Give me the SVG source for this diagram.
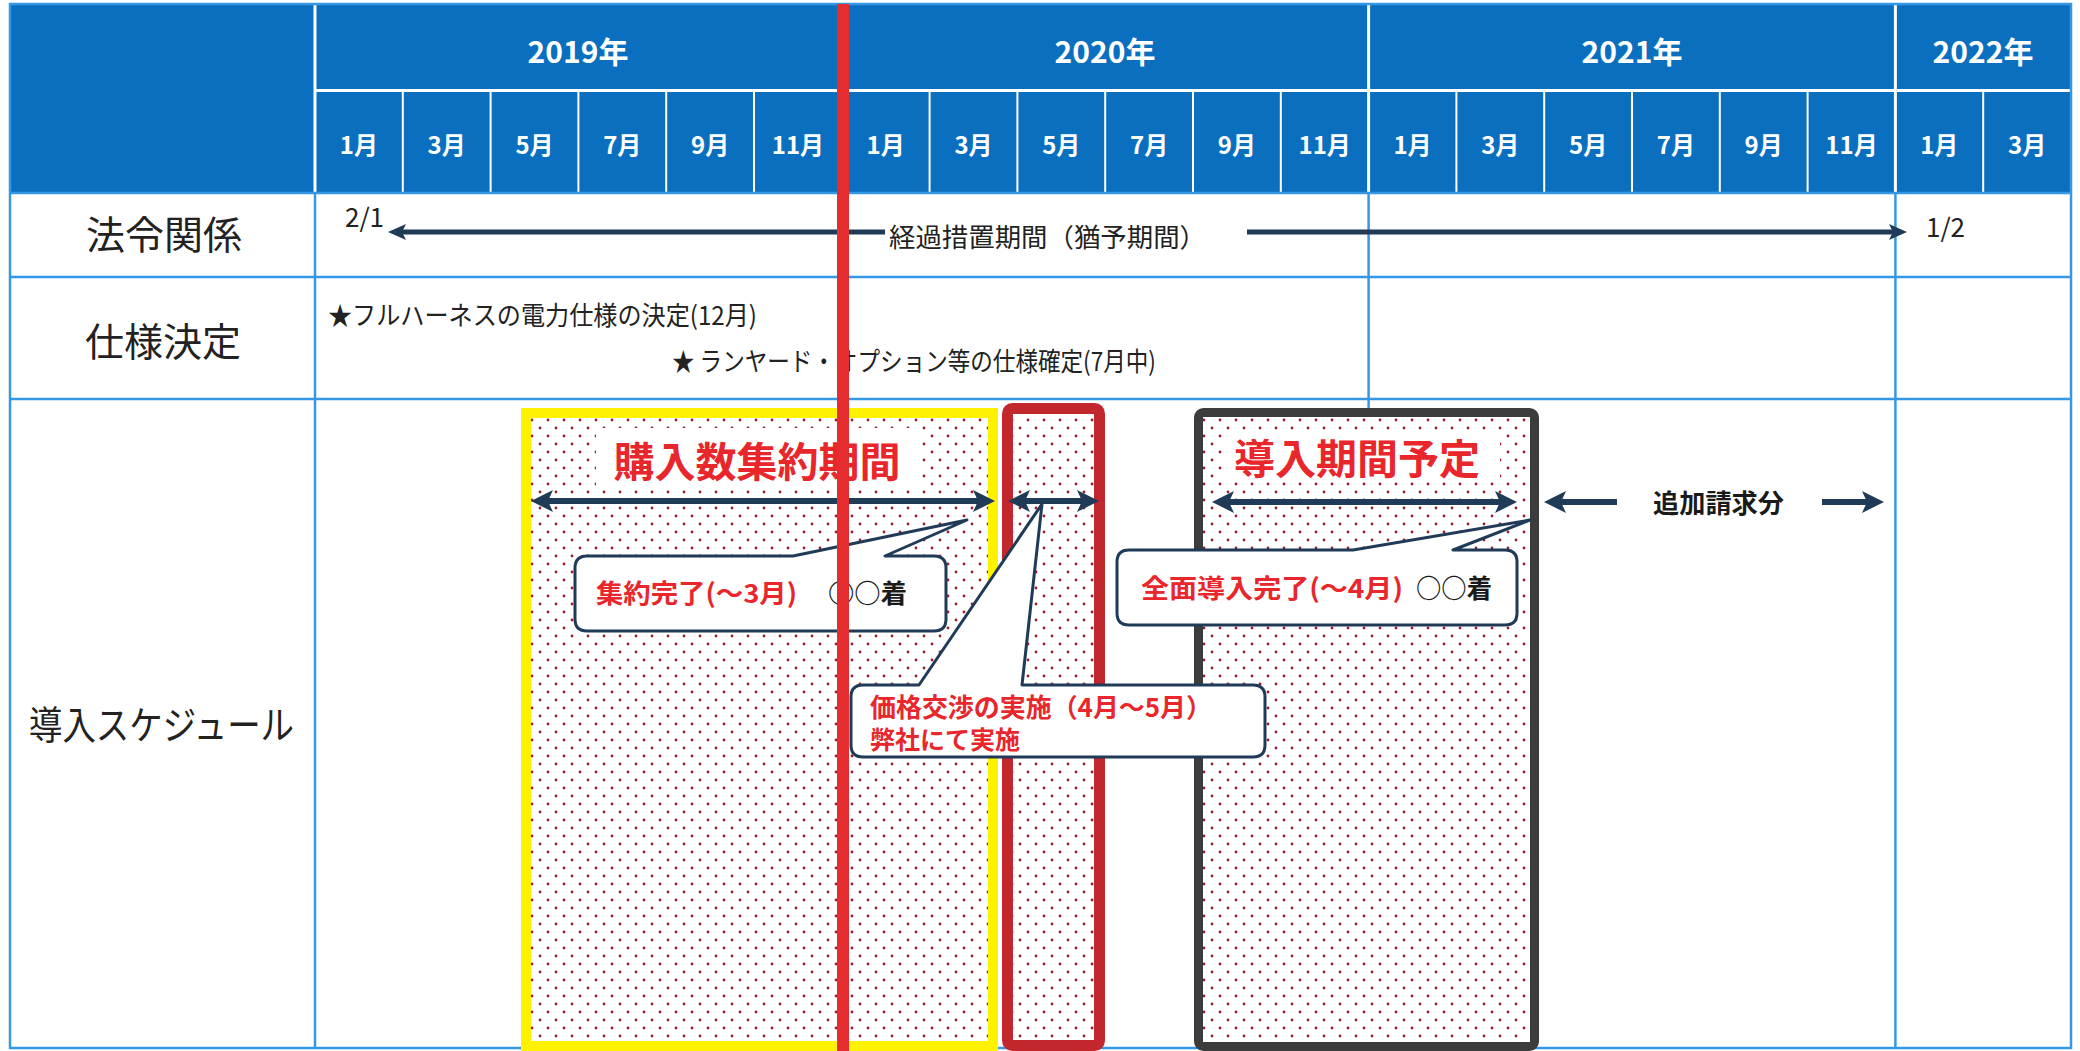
<svg xmlns="http://www.w3.org/2000/svg" width="2080" height="1051" viewBox="0 0 2080 1051">
<style>
text{font-family:"Noto Sans CJK JP","Noto Sans",sans-serif}
.yr{fill:#fff;font-weight:bold;font-size:30px;text-anchor:middle}
.mo{fill:#fff;font-weight:bold;font-size:24px;text-anchor:middle}
.lbl{fill:#222;font-size:39px;text-anchor:middle}
.txt{fill:#222;font-size:26px}
.red{fill:#e8262b;font-weight:bold}
.blk{fill:#1a1a1a;font-weight:bold}
.wl{stroke:#fff;stroke-width:3}
.wm{stroke:#fff;stroke-width:2}
.gl{stroke:#3598e6;stroke-width:2.5;fill:none}
.arr{stroke:#1f3b57;stroke-width:6;fill:none}
.arr2{stroke:#1f3b57;stroke-width:5;fill:none}
.co{fill:#fff;stroke:#1f3b57;stroke-width:3;stroke-linejoin:round}
</style>
<defs>
<pattern id="dots" width="16" height="16" patternUnits="userSpaceOnUse">
<rect width="16" height="16" fill="#fff"/>
<circle cx="4" cy="4" r="1.4" fill="#9e1c2c"/>
<circle cx="12" cy="12" r="1.4" fill="#9e1c2c"/>
</pattern>
<marker id="ah" viewBox="0 0 22 22" refX="8" refY="11" markerWidth="22" markerHeight="22" markerUnits="userSpaceOnUse" orient="auto-start-reverse">
<path d="M0,0 L22,11 L0,22 L5,11 Z" fill="#1f3b57"/>
</marker>
<marker id="ahs" viewBox="0 0 18 16" refX="6" refY="8" markerWidth="18" markerHeight="16" markerUnits="userSpaceOnUse" orient="auto-start-reverse">
<path d="M0,0 L18,8 L0,16 L4,8 Z" fill="#1f3b57"/>
</marker>
</defs>
<rect width="2080" height="1051" fill="#fff"/>

<g id="table">
<rect x="11" y="5" width="2060" height="188" fill="#0b6fbf"/>
<line class="wl" x1="315" y1="5" x2="315" y2="193"/>
<line class="wl" x1="315" y1="90.5" x2="2071" y2="90.5"/>
<line class="wl" x1="841.8" y1="5" x2="841.8" y2="193"/>
<line class="wl" x1="1368.6" y1="5" x2="1368.6" y2="193"/>
<line class="wl" x1="1895.4" y1="5" x2="1895.4" y2="193"/>
<g class="wm">
<line x1="402.8" y1="90" x2="402.8" y2="193"/>
<line x1="490.6" y1="90" x2="490.6" y2="193"/>
<line x1="578.4" y1="90" x2="578.4" y2="193"/>
<line x1="666.2" y1="90" x2="666.2" y2="193"/>
<line x1="754" y1="90" x2="754" y2="193"/>
<line x1="929.6" y1="90" x2="929.6" y2="193"/>
<line x1="1017.4" y1="90" x2="1017.4" y2="193"/>
<line x1="1105.2" y1="90" x2="1105.2" y2="193"/>
<line x1="1193" y1="90" x2="1193" y2="193"/>
<line x1="1280.8" y1="90" x2="1280.8" y2="193"/>
<line x1="1456.4" y1="90" x2="1456.4" y2="193"/>
<line x1="1544.2" y1="90" x2="1544.2" y2="193"/>
<line x1="1632" y1="90" x2="1632" y2="193"/>
<line x1="1719.8" y1="90" x2="1719.8" y2="193"/>
<line x1="1807.6" y1="90" x2="1807.6" y2="193"/>
<line x1="1983.2" y1="90" x2="1983.2" y2="193"/>
</g>
<text class="yr" x="578" y="63">2019年</text>
<text class="yr" x="1105" y="63">2020年</text>
<text class="yr" x="1632" y="63">2021年</text>
<text class="yr" x="1983" y="63">2022年</text>
<text class="mo" x="358.9" y="154">1月</text>
<text class="mo" x="446.7" y="154">3月</text>
<text class="mo" x="534.5" y="154">5月</text>
<text class="mo" x="622.3" y="154">7月</text>
<text class="mo" x="710.1" y="154">9月</text>
<text class="mo" x="797.9" y="154">11月</text>
<text class="mo" x="885.7" y="154">1月</text>
<text class="mo" x="973.5" y="154">3月</text>
<text class="mo" x="1061.3" y="154">5月</text>
<text class="mo" x="1149.1" y="154">7月</text>
<text class="mo" x="1236.9" y="154">9月</text>
<text class="mo" x="1324.7" y="154">11月</text>
<text class="mo" x="1412.5" y="154">1月</text>
<text class="mo" x="1500.3" y="154">3月</text>
<text class="mo" x="1588.1" y="154">5月</text>
<text class="mo" x="1675.9" y="154">7月</text>
<text class="mo" x="1763.7" y="154">9月</text>
<text class="mo" x="1851.5" y="154">11月</text>
<text class="mo" x="1939.3" y="154">1月</text>
<text class="mo" x="2027.1" y="154">3月</text>
<rect class="gl" x="10" y="4" width="2061" height="1044"/>
<line class="gl" x1="10" y1="193" x2="2071" y2="193"/>
<line class="gl" x1="10" y1="277" x2="2071" y2="277"/>
<line class="gl" x1="10" y1="399" x2="2071" y2="399"/>
<line class="gl" x1="315" y1="193" x2="315" y2="1048"/>
<line class="gl" x1="1368.6" y1="193" x2="1368.6" y2="1048"/>
<line class="gl" x1="1895.4" y1="193" x2="1895.4" y2="1048"/>
<text class="lbl" x="164" y="249">法令関係</text>
<text class="lbl" x="163" y="356">仕様決定</text>
<text class="lbl" x="29" y="739" style="text-anchor:start" textLength="265" lengthAdjust="spacingAndGlyphs">導入スケジュール</text>
<text class="txt" x="345" y="227">2/1</text>
<text class="txt" x="889" y="247" font-size="28" textLength="317" lengthAdjust="spacingAndGlyphs">経過措置期間（猶予期間）</text>
<text class="txt" x="1926" y="237">1/2</text>
<text class="txt" x="328" y="325" textLength="429" lengthAdjust="spacingAndGlyphs">★フルハーネスの電力仕様の決定(12月)</text>
<text class="txt" x="672" y="371" textLength="484" lengthAdjust="spacingAndGlyphs">★ ランヤード・オプション等の仕様確定(7月中)</text>
</g>

<g id="box-shuyaku">
<rect x="526" y="413" width="467" height="633" fill="url(#dots)" stroke="#fff200" stroke-width="10"/>
<rect x="596" y="428" width="322" height="62" fill="#fff"/>
<text class="red" x="757" y="477" font-size="41" text-anchor="middle">購入数集約期間</text>
</g>

<g id="box-kakaku">
<rect x="1007.5" y="408.5" width="92" height="637" rx="5" fill="url(#dots)" stroke="#c1272d" stroke-width="11"/>
</g>

<g id="box-dounyu">
<rect x="1198.5" y="412.5" width="336" height="634" rx="5" fill="url(#dots)" stroke="#3c3c3c" stroke-width="9"/>
<rect x="1222" y="430" width="278" height="52" fill="#fff"/>
<text class="red" x="1357" y="474" font-size="41" text-anchor="middle">導入期間予定</text>
</g>

<g id="connectors">
<line class="arr2" x1="885" y1="232" x2="400" y2="232" marker-end="url(#ahs)"/>
<line class="arr2" x1="1247" y1="232" x2="1895" y2="232" marker-end="url(#ahs)"/>
<line class="arr" x1="545" y1="501" x2="981" y2="501" marker-start="url(#ah)" marker-end="url(#ah)"/>
<line class="arr" x1="1022" y1="501" x2="1085" y2="501" marker-start="url(#ah)" marker-end="url(#ah)"/>
<line class="arr" x1="1226" y1="502" x2="1503" y2="502" marker-start="url(#ah)" marker-end="url(#ah)"/>
<line class="arr" x1="1617" y1="502" x2="1558" y2="502" marker-end="url(#ah)"/>
<line class="arr" x1="1822" y1="502" x2="1870" y2="502" marker-end="url(#ah)"/>
</g>

<g id="label-tsuika">
<text class="blk" x="1653" y="513" font-size="26" textLength="131" lengthAdjust="spacingAndGlyphs">追加請求分</text>
</g>

<g id="callout-shuyaku">
<path class="co" d="M587,556 H793 L967,520 L885,556 H934 Q946,556 946,568 V619 Q946,631 934,631 H587 Q575,631 575,619 V568 Q575,556 587,556 Z"/>
<text class="red" x="596" y="603" font-size="26" textLength="201" lengthAdjust="spacingAndGlyphs">集約完了(～3月)</text>
<text class="blk" x="828" y="603" font-size="26" textLength="79" lengthAdjust="spacingAndGlyphs">○○着</text>
</g>

<g id="callout-dounyu">
<path class="co" d="M1129,550 H1353 L1530,520 L1453,550 H1505 Q1517,550 1517,562 V613 Q1517,625 1505,625 H1129 Q1117,625 1117,613 V562 Q1117,550 1129,550 Z"/>
<text class="red" x="1141" y="598" font-size="26" textLength="262" lengthAdjust="spacingAndGlyphs">全面導入完了(～4月)</text>
<text class="blk" x="1416" y="598" font-size="26" textLength="76" lengthAdjust="spacingAndGlyphs">○○着</text>
</g>

<g id="callout-kakaku">
<path class="co" d="M863,685 H919 L1042,504 L1022,685 H1253 Q1265,685 1265,697 V745 Q1265,757 1253,757 H863 Q851,757 851,745 V697 Q851,685 863,685 Z"/>
<text class="red" x="870" y="717" font-size="26" textLength="342" lengthAdjust="spacingAndGlyphs">価格交渉の実施（4月～5月）</text>
<text class="red" x="870" y="749" font-size="25">弊社にて実施</text>
</g>

<g id="red-line">
<rect x="837" y="4" width="12" height="1047" fill="#e52d2f"/>
</g>
</svg>
